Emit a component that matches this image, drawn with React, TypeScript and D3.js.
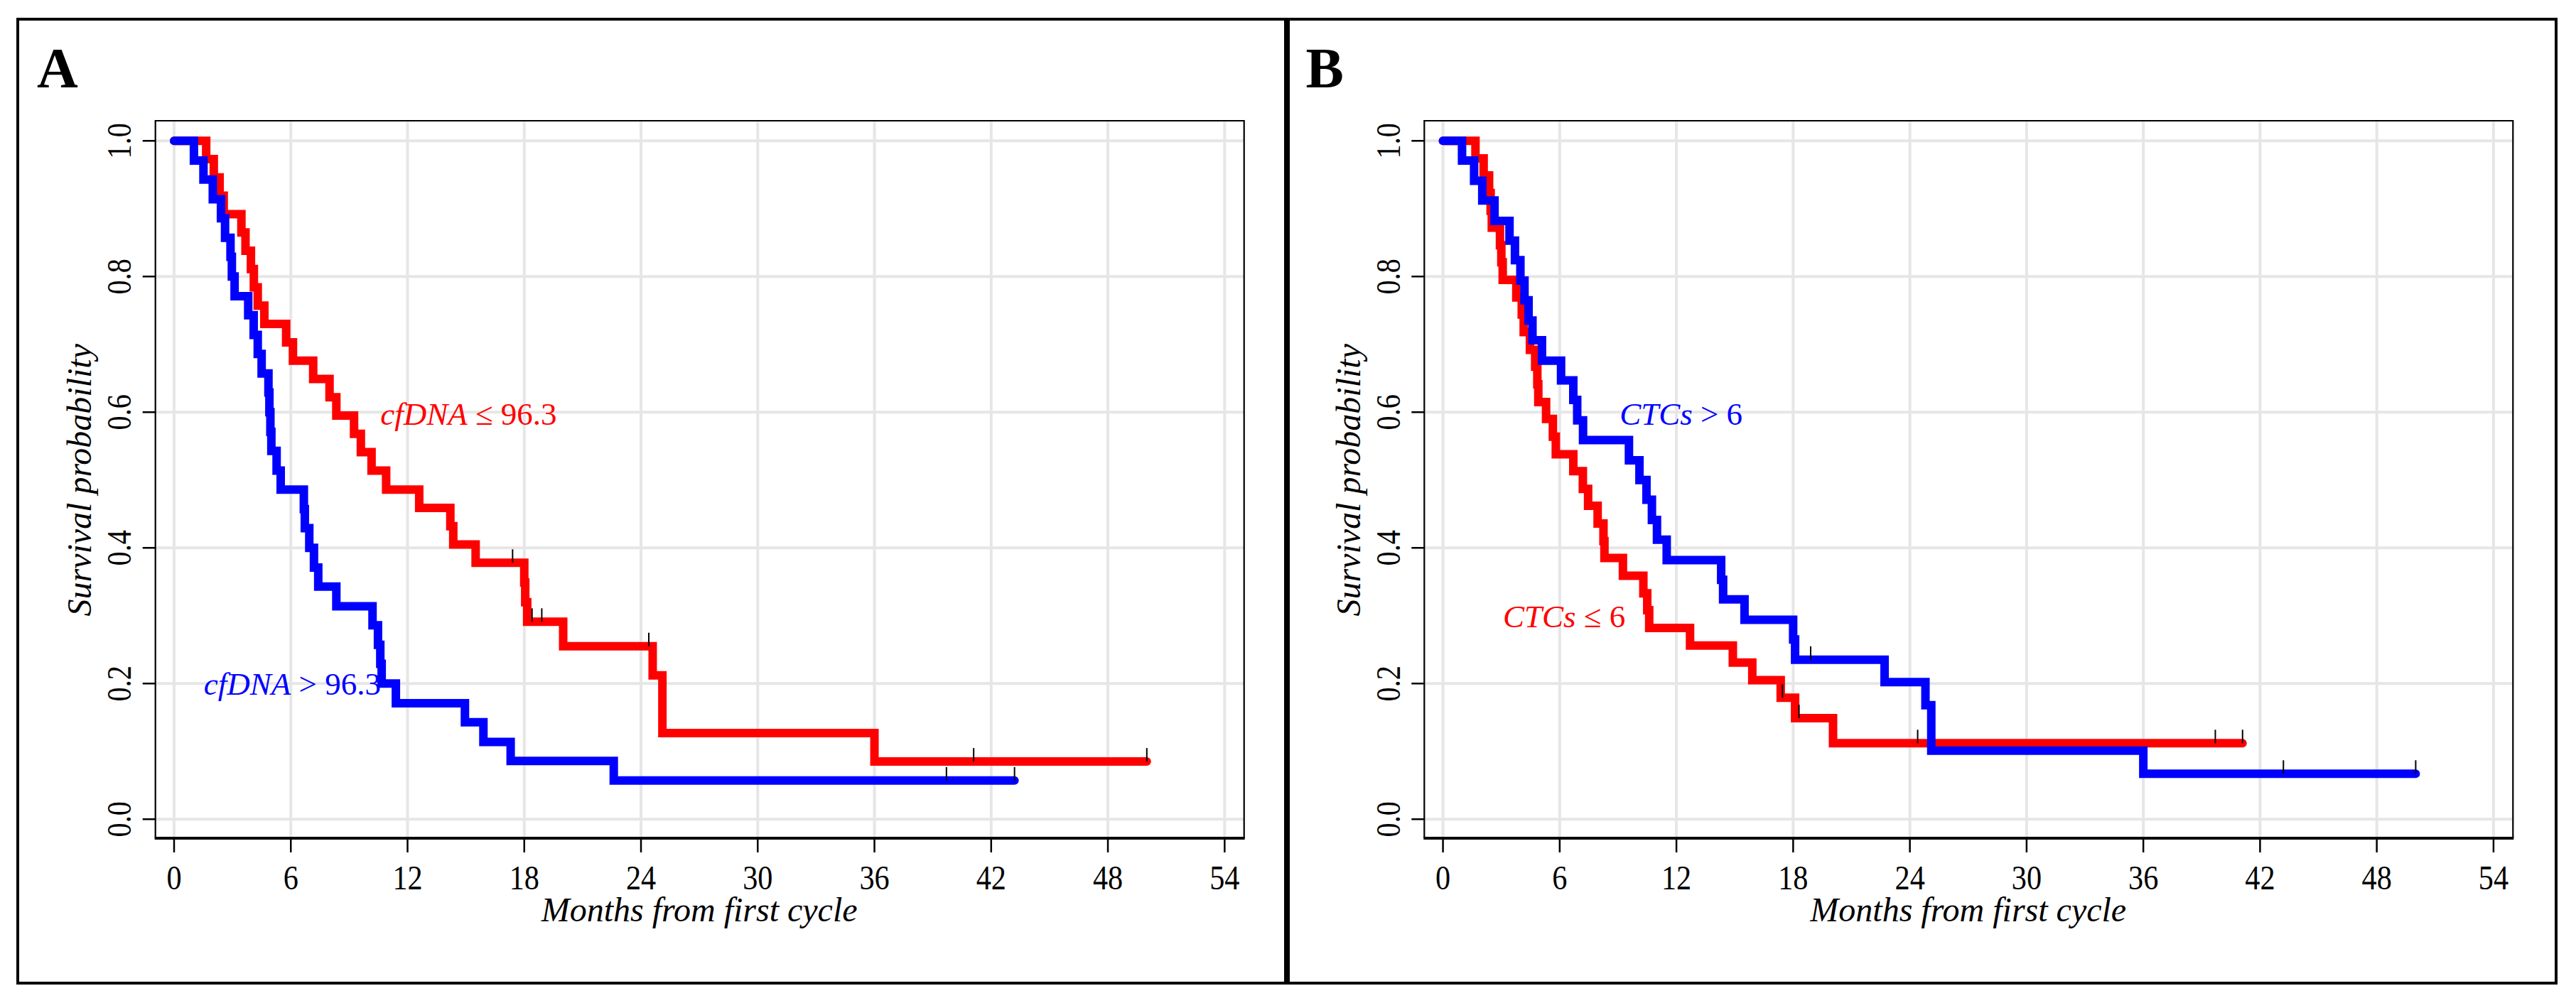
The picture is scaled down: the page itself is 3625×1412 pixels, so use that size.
import * as d3 from "d3";

// axis ticks
const monthTicks = [0, 6, 12, 18, 24, 30, 36, 42, 48, 54];
const probTicks = [0, 0.2, 0.4, 0.6, 0.8, 1.0];

// Panel A, cfDNA <= 96.3 (red)
const cfLowTime = [0, 1.65, 2.04, 2.34, 2.55, 3.46, 3.67, 3.95, 4.1, 4.3, 4.64, 5.76, 6.11, 7.15, 7.99, 8.34, 9.25, 9.6, 10.15, 10.9, 12.6, 14.2, 14.35, 15.5, 18.0, 18.05, 18.15, 20.0, 24.6, 25.1, 36.0];
const cfLowSurv = [1.0, 0.973, 0.946, 0.919, 0.892, 0.865, 0.838, 0.811, 0.784, 0.757, 0.73, 0.703, 0.676, 0.649, 0.622, 0.595, 0.568, 0.541, 0.514, 0.486, 0.459, 0.432, 0.405, 0.378, 0.349, 0.32, 0.291, 0.255, 0.212, 0.127, 0.085];
const cfLowEnd = 50.0;
const cfLowCensor = [17.4, 18.4, 18.9, 24.4, 41.1, 50.0];

// Panel A, cfDNA > 96.3 (blue)
const cfHighTime = [0, 1.02, 1.51, 1.99, 2.41, 2.62, 2.9, 2.97, 3.11, 3.81, 4.09, 4.3, 4.5, 4.85, 4.9, 4.95, 5.0, 5.27, 5.48, 6.67, 6.72, 6.95, 7.19, 7.41, 8.34, 10.2, 10.48, 10.6, 10.67, 11.4, 14.95, 15.9, 17.3, 22.6];
const cfHighSurv = [1.0, 0.971, 0.943, 0.914, 0.886, 0.857, 0.829, 0.8, 0.771, 0.743, 0.714, 0.686, 0.657, 0.629, 0.6, 0.571, 0.543, 0.514, 0.486, 0.457, 0.429, 0.4, 0.371, 0.343, 0.314, 0.286, 0.257, 0.229, 0.2, 0.171, 0.143, 0.114, 0.086, 0.057];
const cfHighEnd = 43.2;
const cfHighCensor = [39.7, 43.2];

// Panel B, CTCs <= 6 (red)
const ctcLowTime = [0, 1.67, 2.09, 2.37, 2.45, 2.51, 2.93, 3.0, 3.07, 3.77, 4.05, 4.15, 4.47, 4.74, 4.85, 4.9, 5.3, 5.65, 5.8, 6.7, 7.19, 7.46, 7.95, 8.25, 8.3, 9.25, 10.3, 10.5, 10.6, 12.7, 14.9, 15.9, 17.36, 18.1, 20.05];
const ctcLowSurv = [1.0, 0.974, 0.949, 0.923, 0.897, 0.872, 0.846, 0.821, 0.795, 0.769, 0.744, 0.718, 0.692, 0.667, 0.641, 0.615, 0.59, 0.564, 0.538, 0.513, 0.487, 0.462, 0.436, 0.41, 0.385, 0.359, 0.333, 0.308, 0.282, 0.256, 0.231, 0.205, 0.179, 0.149, 0.112];
const ctcLowEnd = 41.1;
const ctcLowCensor = [17.45, 18.3, 24.4, 39.7, 41.1];

// Panel B, CTCs > 6 (blue)
const ctcHighTime = [0, 0.98, 1.6, 2.02, 2.65, 3.42, 3.7, 3.98, 4.19, 4.4, 4.6, 5.09, 6.07, 6.7, 6.9, 7.2, 9.56, 10.1, 10.46, 10.74, 11.0, 11.5, 14.3, 14.4, 15.5, 18.0, 18.1, 22.7, 24.8, 25.1, 36.0];
const ctcHighSurv = [1.0, 0.971, 0.941, 0.912, 0.882, 0.853, 0.824, 0.794, 0.765, 0.735, 0.706, 0.676, 0.647, 0.618, 0.588, 0.559, 0.529, 0.5, 0.471, 0.441, 0.412, 0.382, 0.353, 0.324, 0.294, 0.265, 0.235, 0.202, 0.168, 0.101, 0.067];
const ctcHighEnd = 50.0;
const ctcHighCensor = [18.9, 43.2, 50.0];

const W = 3625;
const H = 1412;
const box = { left: 218.7, right: 1750.7, top: 170, bottom: 1180 };
const serif = "'Liberation Serif', 'Times New Roman', serif";

const x = d3.scaleLinear().domain([-0.96, 55]).range([box.left, box.right]);
const y = d3.scaleLinear().domain([-0.028, 1.0296]).range([box.bottom, box.top]);

const line = d3
  .line<[number, number]>()
  .x((d) => x(d[0]))
  .y((d) => y(d[1]))
  .curve(d3.curveStepAfter);

function stepPoints(times: number[], surv: number[], end: number): [number, number][] {
  const pts = times.map((t, i) => [t, surv[i]] as [number, number]);
  pts.push([end, surv[surv.length - 1]]);
  return pts;
}

function levelAt(times: number[], surv: number[], t: number) {
  const i = d3.bisectRight(times, t) - 1;
  return surv[Math.max(0, i)];
}

type Curve = { time: number[]; surv: number[]; end: number; censor: number[]; color: string };

function Panel({ shift, letter, curves, labels }: { shift: number; letter: string; curves: Curve[]; labels: any[] }) {
  return (
    <g transform={`translate(${shift},0)`}>
      {/* grid */}
      {monthTicks.map((m) => (
        <line key={"gx" + m} x1={x(m)} x2={x(m)} y1={box.top} y2={box.bottom} stroke="#e6e6e6" strokeWidth={4} />
      ))}
      {probTicks.map((p) => (
        <line key={"gy" + p} x1={box.left} x2={box.right} y1={y(p)} y2={y(p)} stroke="#e6e6e6" strokeWidth={4} />
      ))}

      {/* box */}
      <path
        d={`M${box.left},${box.bottom}V${box.top}H${box.right}V${box.bottom}`}
        fill="none"
        stroke="black"
        strokeWidth={2.2}
      />
      <line x1={box.left - 1} x2={box.right + 1} y1={box.bottom} y2={box.bottom} stroke="black" strokeWidth={4} />

      {/* x axis */}
      {monthTicks.map((m) => (
        <g key={"tx" + m}>
          <line x1={x(m)} x2={x(m)} y1={box.bottom} y2={box.bottom + 20} stroke="black" strokeWidth={2.5} />
          <text
            transform={`translate(${x(m)},1252) scale(0.88,1)`}
            textAnchor="middle"
            fontFamily={serif}
            fontSize={48}
            fill="black"
          >
            {m}
          </text>
        </g>
      ))}
      <text
        x={x(27)}
        y={1297}
        textAnchor="middle"
        fontFamily={serif}
        fontStyle="italic"
        fontSize={48}
        fill="black"
      >
        Months from first cycle
      </text>

      {/* y axis */}
      {probTicks.map((p) => (
        <g key={"ty" + p}>
          <line x1={box.left - 18} x2={box.left} y1={y(p)} y2={y(p)} stroke="black" strokeWidth={2.5} />
          <text
            transform={`translate(184,${y(p)}) rotate(-90) scale(0.84,1)`}
            textAnchor="middle"
            fontFamily={serif}
            fontSize={48}
            fill="black"
          >
            {p.toFixed(1)}
          </text>
        </g>
      ))}
      <text
        transform={`translate(128,${y(0.5)}) rotate(-90)`}
        textAnchor="middle"
        fontFamily={serif}
        fontStyle="italic"
        fontSize={48}
        fill="black"
      >
        Survival probability
      </text>

      {/* curves */}
      {curves.map((c, i) => (
        <path
          key={"c" + i}
          d={line(stepPoints(c.time, c.surv, c.end)) || ""}
          fill="none"
          stroke={c.color}
          strokeWidth={12}
          strokeLinecap="round"
          strokeLinejoin="miter"
        />
      ))}
      {curves.map((c, i) =>
        c.censor.map((t, j) => {
          const yy = y(levelAt(c.time, c.surv, t));
          return (
            <line key={`cm${i}-${j}`} x1={x(t)} x2={x(t)} y1={yy - 19} y2={yy} stroke="black" strokeWidth={2} />
          );
        })
      )}

      {/* curve labels */}
      {labels.map((l, i) => (
        <text key={"l" + i} x={x(l.m)} y={y(l.s)} fontFamily={serif} fontSize={45} fill={l.color}>
          <tspan fontStyle="italic">{l.name}</tspan>
          {" " + l.rest}
        </text>
      ))}

      <text x={52} y={123} fontFamily={serif} fontWeight="bold" fontSize={80} fill="black">
        {letter}
      </text>
    </g>
  );
}

export default function App() {
  const curvesA: Curve[] = [
    { time: cfLowTime, surv: cfLowSurv, end: cfLowEnd, censor: cfLowCensor, color: "#ff0000" },
    { time: cfHighTime, surv: cfHighSurv, end: cfHighEnd, censor: cfHighCensor, color: "#0000ff" },
  ];
  const curvesB: Curve[] = [
    { time: ctcLowTime, surv: ctcLowSurv, end: ctcLowEnd, censor: ctcLowCensor, color: "#ff0000" },
    { time: ctcHighTime, surv: ctcHighSurv, end: ctcHighEnd, censor: ctcHighCensor, color: "#0000ff" },
  ];
  const labelsA = [
    { name: "cfDNA", rest: "\u2264 96.3", m: 10.6, s: 0.581, color: "#ff0000" },
    { name: "cfDNA", rest: "> 96.3", m: 1.53, s: 0.184, color: "#0000ff" },
  ];
  const labelsB = [
    { name: "CTCs", rest: "> 6", m: 9.08, s: 0.581, color: "#0000ff" },
    { name: "CTCs", rest: "\u2264 6", m: 3.08, s: 0.283, color: "#ff0000" },
  ];

  return (
    <svg
      width={W}
      height={H}
      viewBox={`0 0 ${W} ${H}`}
      style={{ position: "absolute", left: 0, top: 0, background: "white" }}
    >
      <rect x={0} y={0} width={W} height={H} fill="white" />
      {/* panel frames */}
      <rect x={25} y={27} width={1784} height={1357} fill="none" stroke="black" strokeWidth={4} />
      <rect x={1813} y={27} width={1784} height={1357} fill="none" stroke="black" strokeWidth={4} />
      <Panel shift={0} letter="A" curves={curvesA} labels={labelsA} />
      <Panel shift={1785.6} letter="B" curves={curvesB} labels={labelsB} />
    </svg>
  );
}
